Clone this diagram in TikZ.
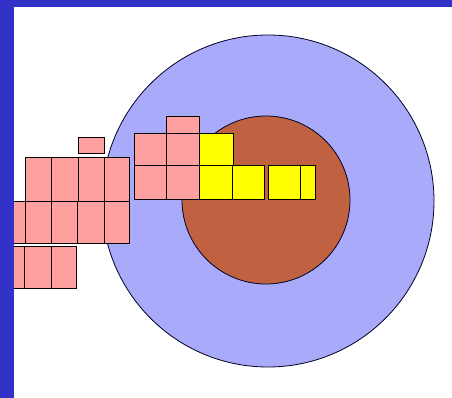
\documentclass[tikz,border=0pt]{standalone}
\usepackage{xcolor}
\definecolor{frameblue}{RGB}{50,50,200}
\definecolor{outerdisc}{RGB}{170,170,250}
\definecolor{innerdisc}{RGB}{192,98,66}
\definecolor{cellpink}{RGB}{255,160,160}
\definecolor{cellyellow}{RGB}{255,255,0}
\tikzset{
  pinkcell/.style={fill=cellpink, draw=black, line width=1pt},
  yellowcell/.style={fill=cellyellow, draw=black, line width=1pt},
  disc/.style={draw=black!85!blue, line width=0.8pt}
}

\begin{document}
\begin{tikzpicture}[x=1pt, y=-1pt]
    % frame: blue band on top and left, white sheet
    \fill[frameblue] (0,0) rectangle (452,398);
    \fill[white] (14,7) rectangle (452,398);
    \useasboundingbox (0,0) rectangle (452,398);
    % the two discs
    \draw[disc, fill=outerdisc] (268,201) circle (166pt);
    \draw[disc, fill=innerdisc] (266,200) circle (84pt);
    % left block of cells
    \draw[pinkcell] (78.3,137.3) rectangle (104,153.7);
    \draw[pinkcell] (25.7,157.3) rectangle (51.7,201.3);
    \draw[pinkcell] (51.7,157.3) rectangle (78.3,201.3);
    \draw[pinkcell] (78.3,157.3) rectangle (104.3,201.3);
    \draw[pinkcell] (104.3,157.3) rectangle (129.7,201.3);
    \draw[pinkcell] (13,201.3) rectangle (25.7,243);
    \draw[pinkcell] (25.7,201.3) rectangle (51.7,243);
    \draw[pinkcell] (51.7,201.3) rectangle (77.3,243);
    \draw[pinkcell] (77.3,201.3) rectangle (104.3,243);
    \draw[pinkcell] (104.3,201.3) rectangle (129.7,243);
    \draw[pinkcell] (13,246.7) rectangle (24,288);
    \draw[pinkcell] (24,246.7) rectangle (51.7,288);
    \draw[pinkcell] (51.7,246.7) rectangle (76.7,288);
    % right block of cells, reaching into the inner disc
    \draw[pinkcell] (166.7,116.7) rectangle (199.3,133.3);
    \draw[pinkcell] (134.7,133.3) rectangle (166,166);
    \draw[pinkcell] (166,133.3) rectangle (199.3,166);
    \draw[yellowcell] (199.3,133.3) rectangle (233.3,166);
    \draw[pinkcell] (134.7,166) rectangle (166,199.3);
    \draw[pinkcell] (166,166) rectangle (199.3,199.3);
    \draw[yellowcell] (199.3,166) rectangle (232,199.3);
    \draw[yellowcell] (232,166) rectangle (264.3,199.3);
    \draw[yellowcell] (268.3,166) rectangle (300,199.3);
    \draw[yellowcell] (300,166) rectangle (315,199.3);
    % redraw the frame band over the clipped cells
    \fill[frameblue] (0,0) rectangle (14,398);
\end{tikzpicture}
\end{document}
